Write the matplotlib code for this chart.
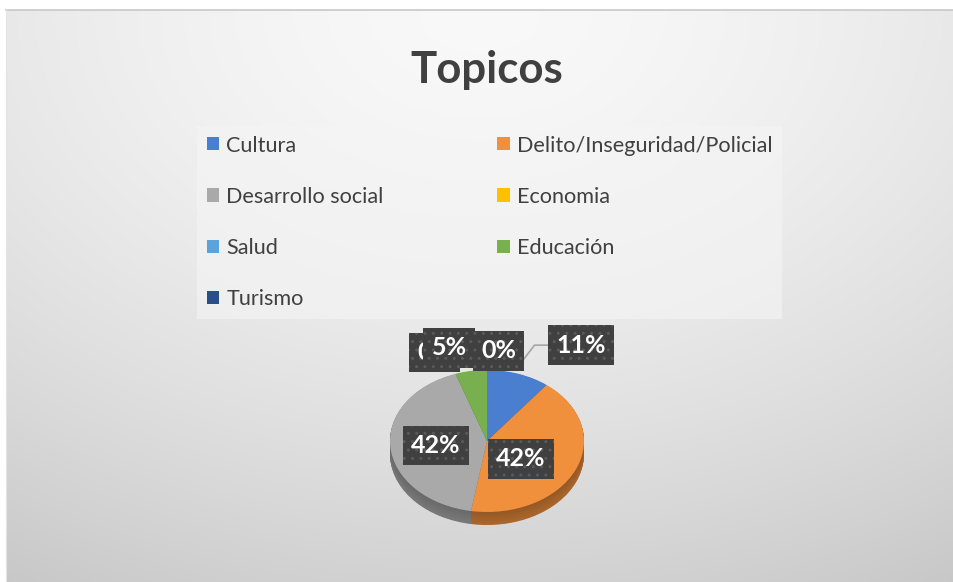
import numpy as np
import matplotlib
matplotlib.use("Agg")
import matplotlib.pyplot as plt
from matplotlib.patches import Rectangle

categories = ["Cultura", "Delito/Inseguridad/Policial", "Desarrollo social",
              "Economia", "Salud", "Educación", "Turismo"]
values = [2, 8, 8, 0, 0, 1, 0]
colors = ["#4a7fcf", "#f08f3c", "#a9a9a9", "#ffc000", "#5ba3db", "#78b050", "#284f8a"]
title = "Topicos"

W, H = 954, 582
fig = plt.figure(figsize=(W / 100, H / 100), dpi=100)
fig.patch.set_facecolor("white")

# background with radial gradient
bg = fig.add_axes([6 / W, 0, 1 - 6 / W, (H - 10) / H])
yy, xx = np.mgrid[0:1:300j, 0:1:500j]
r = np.sqrt(((xx - 0.5) * 1.1) ** 2 + (yy * 0.95) ** 2)
shade = 0.975 - 0.165 * np.clip(r, 0, 1.2) ** 1.6
bg.imshow(np.dstack([shade] * 3), extent=[0, 1, 1, 0], aspect="auto", interpolation="bilinear")
bg.set_xlim(0, 1); bg.set_ylim(1, 0)
bg.axis("off")
fig.add_artist(plt.Line2D([6 / W, 1], [(H - 10) / H] * 2, color="#c8c8c8", lw=1.2))
fig.add_artist(plt.Line2D([6 / W] * 2, [0, (H - 10) / H], color="#e4e4e4", lw=0.8))

fig.text(487 / W, 1 - 70 / H, title, ha="center", va="center", fontsize=31.5,
         fontweight="bold", color="#404040", family="Lato")

# pie
cx, cy, rx, ry = 487, 441, 97, 71
span = 1.6
aw, ah = rx * span * 2, ry * span * 2
ax = fig.add_axes([(cx - aw / 2) / W, (H - cy - ah / 2) / H, aw / W, ah / H])
depth = 13 / ry

def darker(c, f):
    rgb = np.array(matplotlib.colors.to_rgb(c))
    return tuple(rgb * f)

n_layers = 26
for i in range(n_layers, 0, -1):
    off = depth * i / n_layers
    ax.pie(values, colors=[darker(c, 0.62 + 0.1 * (i / n_layers)) for c in colors],
           startangle=90, counterclock=False, center=(0, -off),
           wedgeprops=dict(linewidth=0))
wedges, _ = ax.pie(values, colors=colors, startangle=90, counterclock=False,
                   wedgeprops=dict(linewidth=0))
ax.set_aspect("auto")
ax.set_xlim(-span, span)
ax.set_ylim(-span, span)
ax.axis("off")

total = sum(values)
pct = [f"{round(100 * v / total)}%" for v in values]
label_pos = [(0.97, 1.35), (0.35, -0.25), (-0.53, -0.06),
             (-0.54, 1.25), (-0.54, 1.25), (-0.39, 1.31), (0.12, 1.27)]
order = [3, 4, 5, 6, 0, 1, 2]
for k, i in enumerate(order):
    x, y = label_pos[i]
    ax.text(x, y, pct[i], ha="center", va="center", color="white", fontsize=18,
            fontweight="bold", family="Lato", zorder=10 + k, clip_on=False,
            bbox=dict(boxstyle="square,pad=0.33", facecolor="#404040",
                      edgecolor="#5a5a5a", hatch="..", linewidth=0))
# leader line for Cultura
ax.plot([0.31, 0.49, 0.62], [1.03, 1.35, 1.35], color="#a6a6a6", lw=1.2, zorder=5,
        clip_on=False)

# legend (row-major order: reorder for matplotlib's column filling)
leg_order = [0, 2, 4, 6, 1, 3, 5]
handles = [Rectangle((0, 0), 1, 1, facecolor=colors[i], edgecolor="none") for i in leg_order]
labels = [categories[i] for i in leg_order]
leg = fig.legend(handles, labels, ncol=2, loc="upper left",
                 bbox_to_anchor=(197 / W, 1 - 126 / H), frameon=True, borderaxespad=0,
                 prop=dict(family="Lato", size=15.6), labelcolor="#404040",
                 handlelength=0.56, handleheight=0.56, handletextpad=0.35,
                 columnspacing=5.25, labelspacing=1.44, borderpad=0.44)
leg.get_frame().set_facecolor("#f5f5f5")
leg.get_frame().set_alpha(0.6)
leg.get_frame().set_edgecolor("none")
leg.get_frame().set_boxstyle("square", pad=0)

fig.savefig("out.png", dpi=100)
